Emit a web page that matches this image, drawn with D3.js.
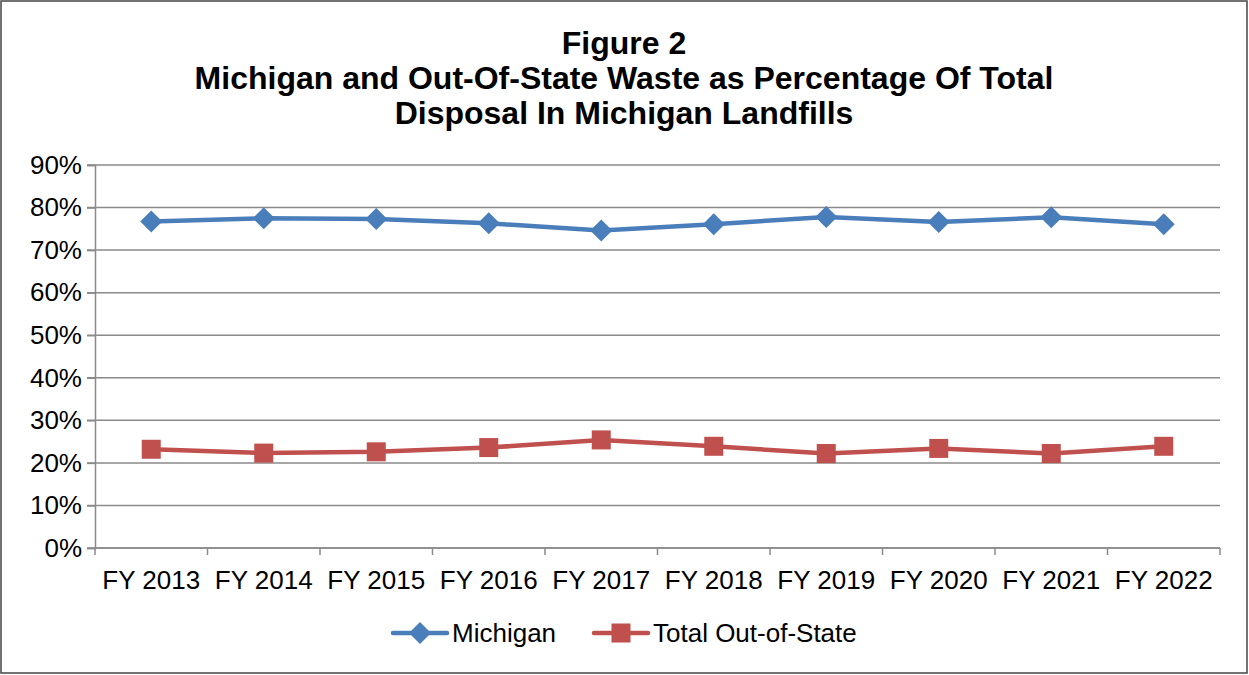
<!DOCTYPE html>
<html>
<head>
<meta charset="utf-8">
<script src="https://cdn.jsdelivr.net/npm/d3@7"></script>
<style>
  body { margin: 0; background: #fff; }
  svg text { font-family: "Liberation Sans", Arial, sans-serif; fill: #000; }
</style>
</head>
<body>
<div id="chart"></div>
<script>
// data
const years = ["FY 2013", "FY 2014", "FY 2015", "FY 2016", "FY 2017", "FY 2018", "FY 2019", "FY 2020", "FY 2021", "FY 2022"];
const michigan = [0.767, 0.775, 0.773, 0.763, 0.746, 0.761, 0.778, 0.766, 0.777, 0.761];
const outOfState = [0.232, 0.223, 0.226, 0.236, 0.254, 0.239, 0.222, 0.234, 0.222, 0.239];
const yTicks = [0, 0.1, 0.2, 0.3, 0.4, 0.5, 0.6, 0.7, 0.8, 0.9];
const titleLines = ["Figure 2", "Michigan and Out-Of-State Waste as Percentage Of Total", "Disposal In Michigan Landfills"];

const width = 1249, height = 675;
const margin = { left: 95, right: 29, top: 165, bottom: 127 };

const svg = d3.select('#chart')
    .append('svg')
    .attr('width', width)
    .attr('height', height);

// outer frame
svg.append('rect')
    .attr('x', 1).attr('y', 1)
    .attr('width', width - 3).attr('height', height - 3)
    .attr('fill', '#fff')
    .attr('stroke', '#444')
    .attr('stroke-width', 1.5);

// title
svg.append('g').selectAll('text')
    .data(titleLines)
    .enter().append('text')
    .attr('x', 624)
    .attr('y', (d, i) => 54 + i * 35)
    .attr('text-anchor', 'middle')
    .attr('font-size', 32)
    .attr('font-weight', 'bold')
    .text(d => d);

const x = d3.scaleBand()
    .domain(years)
    .range([margin.left, width - margin.right]);

const y = d3.scaleLinear()
    .domain([0, 0.9])
    .range([height - margin.bottom, margin.top]);

// gridlines
svg.append('g')
    .selectAll('line')
    .data(yTicks)
    .enter().append('line')
    .attr('x1', margin.left - 8)
    .attr('x2', width - margin.right)
    .attr('y1', d => y(d))
    .attr('y2', d => y(d))
    .attr('stroke', '#8a8a8a')
    .attr('stroke-width', 1.5);

// y axis
const yAxis = svg.append('g')
    .attr('transform', `translate(${margin.left},0)`)
    .call(d3.axisLeft(y).tickValues(yTicks).tickFormat(d3.format('.0%')).tickSize(8).tickPadding(5));
yAxis.select('.domain').attr('stroke', '#8a8a8a').attr('stroke-width', 1.5);
yAxis.selectAll('.tick line').attr('stroke', '#8a8a8a').attr('stroke-width', 1.5);
yAxis.selectAll('text').attr('font-size', 26).attr('font-family', '"Liberation Sans", Arial, sans-serif').attr('fill', '#000');

// x axis with ticks between categories
const xAxisG = svg.append('g')
    .attr('transform', `translate(0,${y(0)})`);
xAxisG.append('line')
    .attr('x1', margin.left).attr('x2', width - margin.right)
    .attr('stroke', '#8a8a8a').attr('stroke-width', 1.5);
const boundaries = years.map(d => x(d)).concat([width - margin.right]);
xAxisG.selectAll('line.tk')
    .data(boundaries)
    .enter().append('line')
    .attr('class', 'tk')
    .attr('x1', d => d).attr('x2', d => d)
    .attr('y1', 0).attr('y2', 7)
    .attr('stroke', '#8a8a8a').attr('stroke-width', 1.5);
xAxisG.selectAll('text')
    .data(years)
    .enter().append('text')
    .attr('x', d => x(d) + x.bandwidth() / 2)
    .attr('y', 41)
    .attr('text-anchor', 'middle')
    .attr('font-size', 26)
    .text(d => d);

const cx = d => x(d) + x.bandwidth() / 2;
const line = d3.line().x((d, i) => cx(years[i])).y(d => y(d));

const series = [
    { name: 'Michigan', values: michigan, color: '#4a7ebb', kind: 'diamond' },
    { name: 'Total Out-of-State', values: outOfState, color: '#c0504d', kind: 'square' }
];

// Excel-like markers
function marker(g, s) {
    if (s.kind === 'diamond') {
        g.append('path')
            .attr('d', 'M0,-11L11,0L0,11L-11,0Z')
            .attr('fill', s.color);
    } else {
        g.append('rect')
            .attr('x', -9.5).attr('y', -9.5)
            .attr('width', 19).attr('height', 19)
            .attr('fill', s.color);
    }
}

series.forEach(s => {
    svg.append('path')
        .datum(s.values)
        .attr('d', line)
        .attr('fill', 'none')
        .attr('stroke', s.color)
        .attr('stroke-width', 4.5)
        .attr('stroke-linejoin', 'round');
    s.values.forEach((v, i) => {
        const g = svg.append('g').attr('transform', `translate(${cx(years[i])},${y(v)})`);
        marker(g, s);
    });
});

// legend
const legendItems = [
    { s: series[0], x: 393, w: 54 },
    { s: series[1], x: 594, w: 54 }
];
legendItems.forEach(it => {
    const g = svg.append('g').attr('transform', `translate(${it.x},633)`);
    g.append('line')
        .attr('x1', 0).attr('x2', it.w)
        .attr('stroke', it.s.color).attr('stroke-width', 4.5)
        .attr('stroke-linecap', 'round');
    const m = g.append('g').attr('transform', `translate(${it.w / 2},0)`);
    marker(m, it.s);
    g.append('text')
        .attr('x', it.w + 5)
        .attr('y', 9)
        .attr('font-size', 26)
        .text(it.s.name);
});
</script>
</body>
</html>
